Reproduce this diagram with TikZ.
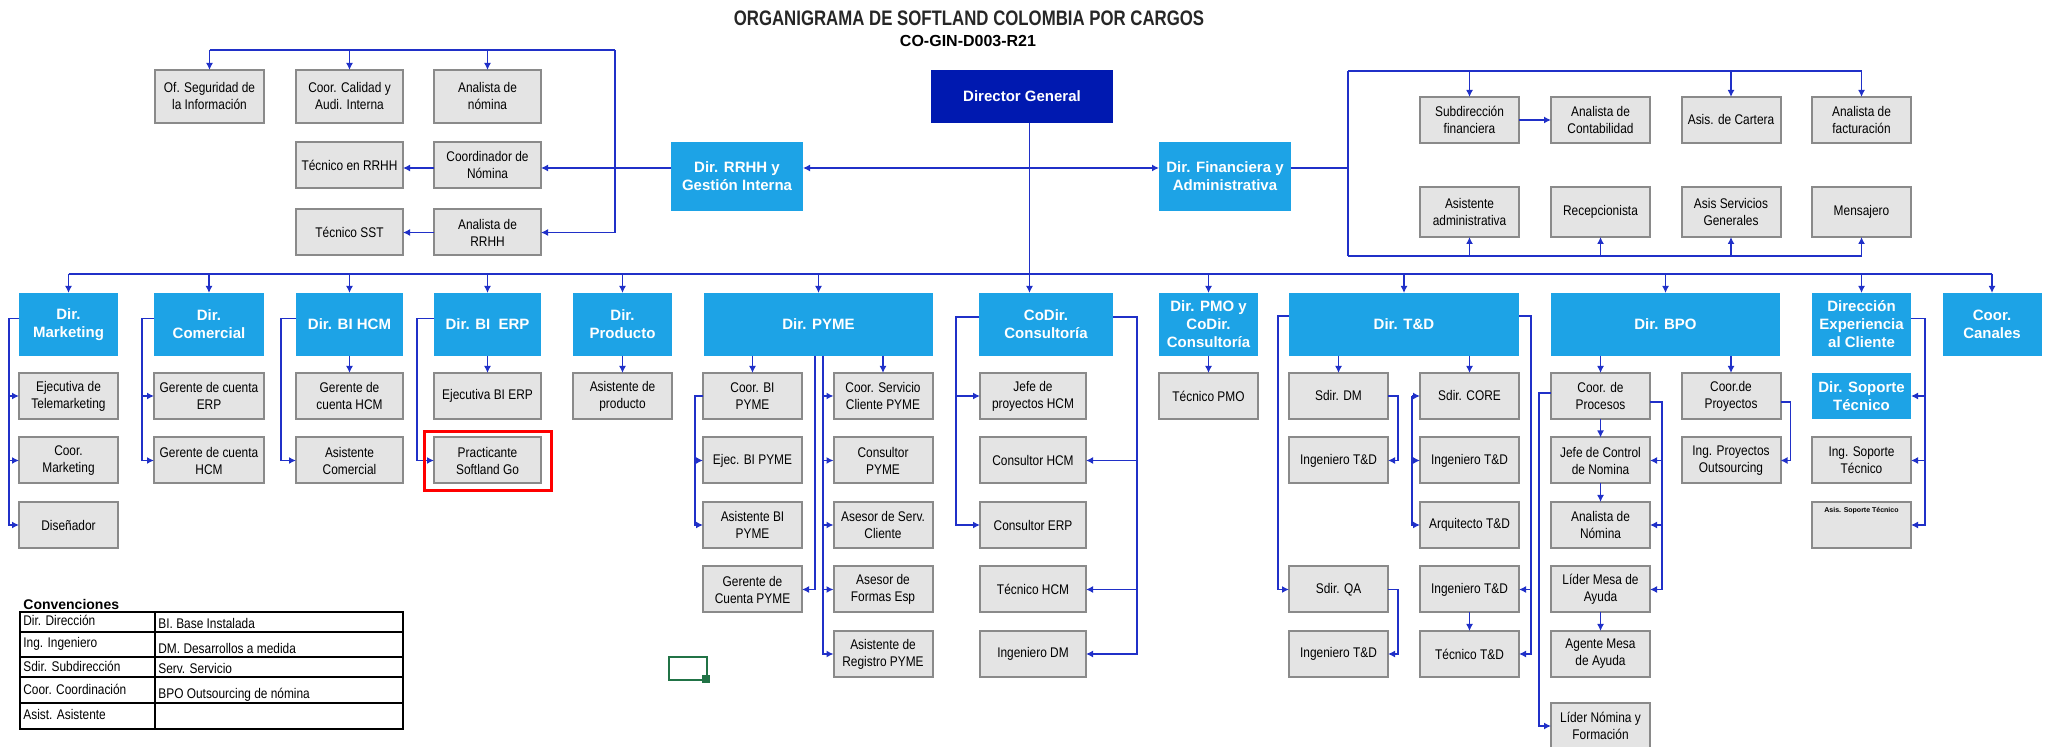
\documentclass[tikz,border=0pt]{standalone}
\usepackage{fontspec}
\setmainfont{Liberation Sans}
\newfontfamily\narrowfont{Liberation Sans}[FakeStretch=0.85]
\newfontfamily\titlefont{Liberation Sans}[FakeStretch=0.8]
\usetikzlibrary{positioning,arrows.meta}

\definecolor{lineblue}{RGB}{32,48,200}
\definecolor{dirblue}{RGB}{29,163,230}
\definecolor{dgblue}{RGB}{0,25,176}
\definecolor{boxgray}{RGB}{228,228,228}
\definecolor{edgegray}{RGB}{138,138,138}
\definecolor{selgreen}{RGB}{33,115,70}

\begin{document}
\begin{tikzpicture}[
      x=0.5pt, y=-0.5pt,
      gbox/.style={draw=edgegray, line width=1pt, fill=boxgray, outer sep=0pt,
        minimum width=49.5pt, minimum height=23pt, inner sep=1pt, align=center,
        font=\narrowfont\fontsize{7}{8.5}\selectfont},
      dbox/.style={fill=dirblue, text=white, outer sep=0pt, inner sep=1pt,
        minimum width=49.5pt, minimum height=31.5pt, align=center,
        font=\bfseries\fontsize{7.5}{9}\selectfont},
      ln/.style={draw=lineblue, line width=0.9pt},
      arr/.style={ln, ->},
      >={Latex[length=3.5pt,width=3.5pt]}
      ]

  \useasboundingbox (0,0) rectangle (2049,747);

  \node[font=\titlefont\bfseries\fontsize{10.5}{12}\selectfont, text=black!85] (title) at (969,18) {ORGANIGRAMA DE SOFTLAND COLOMBIA POR CARGOS};
  \node[font=\bfseries\fontsize{8}{9}\selectfont] (code) at (968,41) {CO-GIN-D003-R21};

  % direccion general y staff
  \node[dbox, fill=dgblue, minimum width=91pt, minimum height=26.5pt] (dg) at (1022,96.5) {Director General};
  \node[dbox, minimum width=66pt, minimum height=34.5pt] (rh) at (737,176.5) {Dir. RRHH y\\Gestión Interna};
  \node[dbox, minimum width=66pt, minimum height=34.5pt] (fi) at (1225,176.5) {Dir. Financiera y\\Administrativa};

  \node[gbox, minimum width=54.5pt, minimum height=26.5pt] (rh1) at (209.5,96.5) {Of. Seguridad de\\la Información};
  \node[gbox, minimum width=53.5pt, minimum height=26.5pt] (rh2) at (349.5,96.5) {Coor. Calidad y\\Audi. Interna};
  \node[gbox, minimum width=53.5pt, minimum height=26.5pt] (rh3) at (487.5,96.5) {Analista de\\nómina};
  \node[gbox, minimum width=53.5pt] (rh4) at (349.5,165) {Técnico en RRHH};
  \node[gbox, minimum width=53.5pt] (rh5) at (487.5,165) {Coordinador de\\Nómina};
  \node[gbox, minimum width=53.5pt] (rh6) at (349.5,232.5) {Técnico SST};
  \node[gbox, minimum width=53.5pt] (rh7) at (487.5,232.5) {Analista de\\RRHH};

  \node[gbox] (f1) at (1469.5,120) {Subdirección\\financiera};
  \node[gbox] (f2) at (1600.5,120) {Analista de\\Contabilidad};
  \node[gbox] (f3) at (1731,120) {Asis. de Cartera};
  \node[gbox] (f4) at (1861.5,120) {Analista de\\facturación};
  \node[gbox, minimum height=25pt] (f5) at (1469.5,212) {Asistente\\administrativa};
  \node[gbox, minimum height=25pt] (f6) at (1600.5,212) {Recepcionista};
  \node[gbox, minimum height=25pt] (f7) at (1731,212) {Asis Servicios\\Generales};
  \node[gbox, minimum height=25pt] (f8) at (1861.5,212) {Mensajero};

  \coordinate (dgx) at ([xshift=3.75pt]dg.south);
  \coordinate (hy) at (0,168);
  \coordinate (rtop) at (615,50);
  \coordinate (ftop) at (1348,71);
  \coordinate (fbot) at (1348,256);
  \coordinate (bus) at (0,274);

  \draw[arr] (dgx |- hy) -- (rh.east |- hy);
  \draw[arr] (dgx |- hy) -- (fi.west |- hy);
  \draw[ln] (dgx) -- (dgx |- bus);

  \draw[arr] (rh.west |- hy) -- (rh5.east |- hy);
  \draw[arr] (rh5.west |- hy) -- (rh4.east |- hy);
  \draw[ln] (rh1.north |- rtop) -- (rtop);
  \draw[arr] (rtop) |- (rh7.east);
  \foreach \n in {rh1,rh2,rh3} \draw[arr] (\n.north |- rtop) -- (\n.north);
  \draw[arr] (rh7.west) -- (rh6.east);

  \draw[ln] (fi.east |- hy) -- (ftop |- hy);
  \draw[ln] (ftop) -- (fbot);
  \draw[ln] (ftop) -- (f4.north |- ftop);
  \draw[ln] (fbot) -- (f8.south |- fbot);
  \foreach \n in {f1,f3,f4} \draw[arr] (\n.north |- ftop) -- (\n.north);
  \foreach \n in {f5,f6,f7,f8} \draw[arr] (\n.south |- fbot) -- (\n.south);
  \draw[arr] (f1.east) -- (f2.west);

  % direcciones
  \node[dbox] (d1) at (68.5,324.5) {Dir.\\Marketing};
  \node[dbox, minimum width=55pt] (d2) at (209,324.5) {Dir.\\Comercial};
  \node[dbox, minimum width=53.5pt] (d3) at (349.5,324.5) {Dir. BI HCM};
  \node[dbox, minimum width=53.5pt] (d4) at (487.5,324.5) {Dir. BI\ \ ERP};
  \node[dbox] (d5) at (622.5,324.5) {Dir.\\Producto};
  \node[dbox, minimum width=114.5pt] (d6) at (818.5,324.5) {Dir. PYME};
  \node[dbox, minimum width=67pt] (d7) at (1046,324.5) {CoDir.\\Consultoría};
  \node[dbox] (d8) at (1208.5,324.5) {Dir. PMO y\\CoDir.\\Consultoría};
  \node[dbox, minimum width=115pt] (d9) at (1404,324.5) {Dir. T\&D};
  \node[dbox, minimum width=114.5pt] (d10) at (1665.5,324.5) {Dir. BPO};
  \node[dbox] (d11) at (1861.5,324.5) {Dirección\\Experiencia\\al Cliente};
  \node[dbox] (d12) at (1992,324.5) {Coor.\\Canales};

  \draw[ln] (d1.north |- bus) -- (d12.north |- bus);
  \foreach \n in {d1,d2,d3,d4,d5,d6,d8,d9,d10,d11,d12} \draw[arr] (\n.north |- bus) -- (\n.north);
  \draw[arr] (dgx |- bus) -- (dgx |- d7.north);

  % marketing, comercial, BI, producto
  \node[gbox, below=8.5pt of d1] (m1) {Ejecutiva de\\Telemarketing};
  \node[gbox, below=9.25pt of m1] (m2) {Coor.\\Marketing};
  \node[gbox, below=9.25pt of m2] (m3) {Diseñador};
  \draw[arr] ([yshift=3pt]d1.west) -- ++(-10,0) coordinate (mk) |- (m3.west);
  \draw[arr] (mk |- m1) -- (m1.west);
  \draw[arr] (mk |- m2) -- (m2.west);

  \node[gbox, minimum width=55pt, below=8.5pt of d2] (c1) {Gerente de cuenta\\ERP};
  \node[gbox, minimum width=55pt, below=9.25pt of c1] (c2) {Gerente de cuenta\\HCM};
  \draw[arr] ([yshift=3pt]d2.west) -- ++(-12,0) coordinate (co) |- (c2.west);
  \draw[arr] (co |- c1) -- (c1.west);

  \node[gbox, minimum width=53.5pt, below=8.5pt of d3] (h1) {Gerente de\\cuenta HCM};
  \node[gbox, minimum width=53.5pt, below=9.25pt of h1] (h2) {Asistente\\Comercial};
  \draw[arr] (d3.south) -- (h1.north);
  \draw[arr] ([yshift=3pt]d3.west) -- ++(-15,0) |- (h2.west);

  \node[gbox, minimum width=53.5pt, below=8.5pt of d4] (e1) {Ejecutiva BI ERP};
  \node[gbox, minimum width=53.5pt, below=9.25pt of e1] (e2) {Practicante\\Softland Go};
  \draw[arr] (d4.south) -- (e1.north);
  \draw[arr] ([yshift=3pt]d4.west) -- ++(-17,0) |- (e2.west);
  \draw[red, line width=1.5pt] ([shift={(-5pt,2.75pt)}]e2.north west) rectangle ([shift={(5pt,-3.75pt)}]e2.south east);

  \node[gbox, below=8.5pt of d5] (p1) {Asistente de\\producto};
  \draw[arr] (d5.south) -- (p1.north);

  % pyme
  \node[gbox] (y1) at (752.5,396) {Coor. BI\\PYME};
  \node[gbox, below=9.25pt of y1] (y2) {Ejec. BI PYME};
  \node[gbox, below=9.25pt of y2] (y3) {Asistente BI\\PYME};
  \node[gbox, below=9.25pt of y3] (y4) {Gerente de\\Cuenta PYME};
  \node[gbox] (y5) at (883,396) {Coor. Servicio\\Cliente PYME};
  \node[gbox, below=9.25pt of y5] (y6) {Consultor\\PYME};
  \node[gbox, below=9.25pt of y6] (y7) {Asesor de Serv.\\Cliente};
  \node[gbox, below=9.25pt of y7] (y8) {Asesor de\\Formas Esp};
  \node[gbox, below=9.25pt of y8] (y9) {Asistente de\\Registro PYME};

  \coordinate (pa) at (815,0);
  \coordinate (pb) at (823,0);
  \draw[arr] (y1.north |- d6.south) -- (y1.north);
  \draw[arr] (y5.north |- d6.south) -- (y5.north);
  \draw[arr] (y1.west) -- ++(-8,0) coordinate (yb) |- (y3.west);
  \draw[arr] (yb |- y2) -- (y2.west);
  \draw[arr] (pa |- d6.south) |- (y4.east);
  \draw[arr] (pb |- d6.south) |- (y9.west);
  \foreach \n in {y5,y6,y7,y8} \draw[arr] (pb |- \n) -- (\n.west);

  % consultoria y pmo
  \node[gbox, minimum width=53pt] (k1) at (1033,396) {Jefe de\\proyectos HCM};
  \node[gbox, minimum width=53pt, below=9.25pt of k1] (k2) {Consultor HCM};
  \node[gbox, minimum width=53pt, below=9.25pt of k2] (k3) {Consultor ERP};
  \node[gbox, minimum width=53pt, below=9.25pt of k3] (k4) {Técnico HCM};
  \node[gbox, minimum width=53pt, below=9.25pt of k4] (k5) {Ingeniero DM};
  \draw[arr] ([yshift=3.75pt]d7.west) -- ++(-23,0) coordinate (kl) |- (k3.west);
  \draw[arr] (kl |- k1) -- (k1.west);
  \draw[arr] ([yshift=3.75pt]d7.east) -- ++(24,0) coordinate (kr) |- (k5.east);
  \draw[arr] (kr |- k2) -- (k2.east);
  \draw[arr] (kr |- k4) -- (k4.east);

  \node[gbox, below=8.5pt of d8] (t1) {Técnico PMO};
  \draw[arr] (d8.south) -- (t1.north);

  % t&d
  \node[gbox] (s1) at (1338.5,396) {Sdir. DM};
  \node[gbox, below=9.25pt of s1] (s2) {Ingeniero T\&D};
  \node[gbox] (s3) at (1469.5,396) {Sdir. CORE};
  \node[gbox, below=9.25pt of s3] (s4) {Ingeniero T\&D};
  \node[gbox, below=9.25pt of s4] (s5) {Arquitecto T\&D};
  \node[gbox, below=9.25pt of s5] (s8) {Ingeniero T\&D};
  \node[gbox, below=9.25pt of s8] (s9) {Técnico T\&D};
  \node[gbox] (s6) at (s1 |- s8) {Sdir. QA};
  \node[gbox, below=9.25pt of s6] (s7) {Ingeniero T\&D};

  \draw[arr] (s1.north |- d9.south) -- (s1.north);
  \draw[arr] (s3.north |- d9.south) -- (s3.north);
  \draw[arr] (s1.east) -- ++(10,0) |- (s2.east);
  \coordinate (cb) at ([xshift=-4pt]s3.west);
  \draw[arr] (cb) -- (s3.west);
  \draw[arr] (cb) |- (s5.west);
  \draw[arr] (cb |- s4) -- (s4.west);
  \draw[arr] ([yshift=4.25pt]d9.west) -- ++(-11,0) |- (s6.west);
  \draw[arr] (s6.east) -- ++(10,0) |- (s7.east);
  \draw[arr] ([yshift=4.25pt]d9.east) -- ++(12,0) coordinate (tr) |- (s9.east);
  \draw[arr] (tr |- s8) -- (s8.east);
  \draw[arr] (s8.south) -- (s9.north);

  % bpo
  \node[gbox] (b1) at (1600.5,396) {Coor. de\\Procesos};
  \node[gbox, below=9.25pt of b1] (b2) {Jefe de Control\\de Nomina};
  \node[gbox, below=9.25pt of b2] (b3) {Analista de\\Nómina};
  \node[gbox, below=9.25pt of b3] (b4) {Líder Mesa de\\Ayuda};
  \node[gbox, below=9.25pt of b4] (b5) {Agente Mesa\\de Ayuda};
  \node[gbox, below=13pt of b5] (b6) {Líder Nómina y\\Formación};
  \node[gbox] (b7) at (1731,396) {Coor.de\\Proyectos};
  \node[gbox, below=9.25pt of b7] (b8) {Ing. Proyectos\\Outsourcing};

  \draw[arr] (b1.north |- d10.south) -- (b1.north);
  \draw[arr] (b7.north |- d10.south) -- (b7.north);
  \draw[arr] (b1.south) -- (b2.north);
  \draw[arr] (b2.south) -- (b3.north);
  \draw[arr] (b4.south) -- (b5.north);
  \draw[arr] ([yshift=-3pt]b1.east) -- ++(12,0) coordinate (br) |- (b4.east);
  \draw[arr] (br |- b2) -- (b2.east);
  \draw[arr] (br |- b3) -- (b3.east);
  \draw[arr] ([yshift=1.5pt]b1.west) -- ++(-12,0) |- (b6.west);
  \draw[arr] ([yshift=-3pt]b7.east) -- ++(10,0) |- (b8.east);

  % experiencia al cliente
  \node[dbox, minimum height=23pt, below=8.5pt of d11] (x1) {Dir. Soporte\\Técnico};
  \node[gbox, below=9.25pt of x1] (x2) {Ing. Soporte\\Técnico};
  \node[gbox, below=9.25pt of x2, font=\bfseries\fontsize{3.5}{4}\selectfont,
        text height=3pt, text depth=15pt] (x3) {Asis. Soporte Técnico};
  \draw[arr] ([yshift=3pt]d11.east) -- ++(14,0) coordinate (xr) |- (x3.east);
  \draw[arr] (xr |- x1) -- (x1.east);
  \draw[arr] (xr |- x2) -- (x2.east);

  % convenciones
  \node[anchor=west, inner sep=0pt, font=\bfseries\fontsize{7}{8}\selectfont] (conv) at (23,604) {Convenciones};
  \draw[line width=1pt] (20,612) rectangle (403,729);
  \foreach \yy in {632,657,677,703} \draw[line width=1pt] (20,\yy) -- (403,\yy);
  \draw[line width=1pt] (155,612) -- (155,729);
  \begin{scope}[nodes={anchor=west, inner sep=0pt, font=\narrowfont\fontsize{7}{8}\selectfont}]
    \node (l1) at (23,620) {Dir. Dirección};
    \node (l2) at (23,644) {Ing. Ingeniero};
    \node (l3) at (23,666) {Sdir. Subdirección};
    \node (l4) at (23,689) {Coor. Coordinación};
    \node (l5) at (23,714) {Asist. Asistente};
    \node (r1) at (158,623) {BI. Base Instalada};
    \node (r2) at (158,648) {DM. Desarrollos a medida};
    \node (r3) at (158,668) {Serv. Servicio};
    \node (r4) at (158,695) {BPO Outsourcing de nómina};
  \end{scope}

  % marca de celda
  \draw[selgreen, line width=1.2pt] (669,657) rectangle (707,680);
  \fill[selgreen] (702,675) rectangle (710,683);

\end{tikzpicture}
\end{document}
